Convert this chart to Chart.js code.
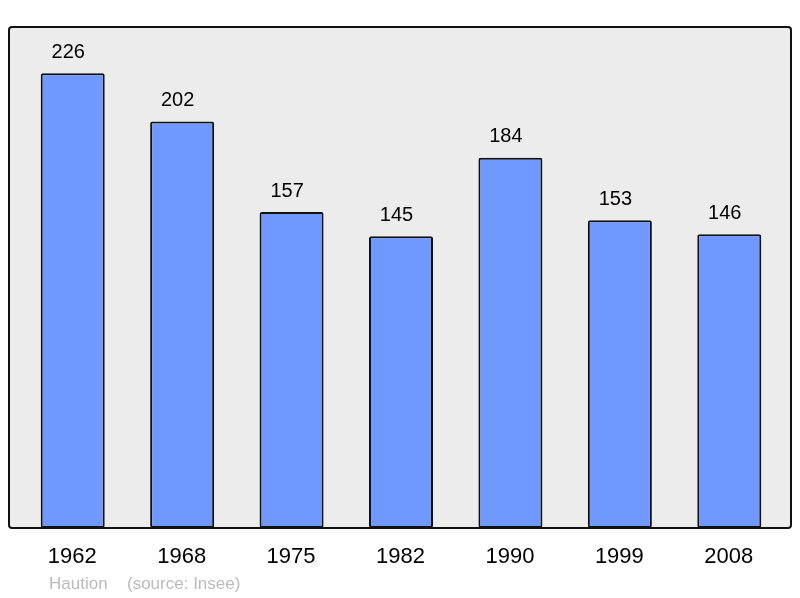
<!DOCTYPE html>
<html>
<head>
<meta charset="utf-8">
<script src="https://cdn.jsdelivr.net/npm/chart.js@4/dist/chart.umd.min.js"></script>
<style>
  html, body { margin: 0; padding: 0; background: #fff; }
  #wrap { width: 800px; height: 598px; }
</style>
</head>
<body>
<div id="wrap"><canvas id="pop"></canvas></div>
<script>
const years = ["1962", "1968", "1975", "1982", "1990", "1999", "2008"];
const population = [226, 202, 157, 145, 184, 153, 146];
const commune = "Haution";
const source = "(source: Insee)";

// fond gris + cadre, et textes (valeurs, années, source)
const decor = {
  id: "decor",
  beforeDraw(chart) {
    const c = chart.ctx;
    c.save();
    c.fillStyle = "#ececec";
    c.strokeStyle = "#111";
    c.lineWidth = 2;
    c.beginPath();
    c.roundRect(9, 27, 782, 501, 3);
    c.fill();
    c.stroke();
    c.restore();
  },
  afterDraw(chart) {
    const c = chart.ctx;
    const x = chart.scales.x;
    const y = chart.scales.y;
    c.save();
    c.textAlign = "center";
    c.textBaseline = "middle";
    c.fillStyle = "#000";
    c.font = "20px 'Liberation Sans', Arial, sans-serif";
    population.forEach((v, i) => {
      c.fillText(String(v), x.getPixelForValue(i) - 4.5, y.getPixelForValue(v) - 21);
    });
    c.font = "22px 'Liberation Sans', Arial, sans-serif";
    years.forEach((yr, i) => {
      c.fillText(yr, x.getPixelForValue(i) - 0.5, 557);
    });
    c.textAlign = "left";
    c.fillStyle = "#bbb";
    c.font = "17px 'Liberation Sans', Arial, sans-serif";
    c.fillText(commune, 49, 584);
    c.fillText(source, 127, 584);
    c.restore();
  }
};

new Chart(document.getElementById("pop"), {
  type: "bar",
  data: {
    labels: years,
    datasets: [{
      data: population,
      backgroundColor: "#7099ff",
      borderColor: "#111",
      borderWidth: 2,
      borderRadius: 2,
      borderSkipped: false,
      barPercentage: 0.585,
      categoryPercentage: 1,
    }],
  },
  options: {
    responsive: true,
    maintainAspectRatio: false,
    animation: false,
    layout: { padding: { left: 18, right: 16, top: 27, bottom: 70 } },
    plugins: {
      legend: { display: false },
      tooltip: { enabled: false },
    },
    scales: {
      x: { display: false },
      y: { display: false, min: 0, max: 249 },
    },
  },
  plugins: [decor],
});
</script>
</body>
</html>
